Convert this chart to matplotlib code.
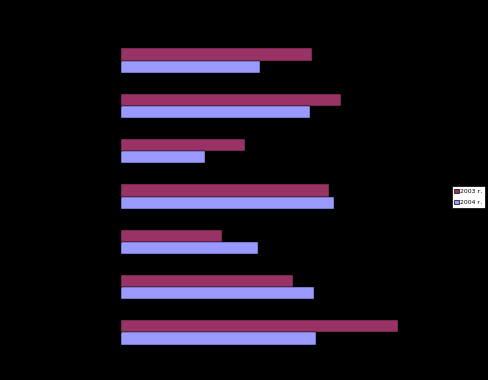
import numpy as np
import matplotlib
matplotlib.use("Agg")
import matplotlib.pyplot as plt
from matplotlib.patches import Patch

# values (axis scale is not shown, units are relative)
groups = ["1", "2", "3", "4", "5", "6", "7"]
y2003 = [191, 220, 124, 208, 101, 172, 277]
y2004 = [139, 189, 84, 213, 137, 193, 195]
series_names = ["2003 г.", "2004 г."]

c2003 = "#993366"
c2004 = "#9999ff"

fig = plt.figure(figsize=(4.88, 3.80), dpi=100, facecolor="black")
W, H = 488, 380
ax = fig.add_axes([121 / W, 1 - 355 / H, 319 / W, (355 - 38) / H])
ax.set_facecolor("black")

pos = np.arange(len(groups))
h = 0.27
ax.barh(pos - h / 2, y2003, height=h, color=c2003, edgecolor="black", linewidth=0.3)
ax.barh(pos + h / 2, y2004, height=h, color=c2004, edgecolor="black", linewidth=0.3)

ax.set_xlim(0, 319)
ax.set_ylim(len(groups) - 0.5, -0.5)
ax.set_yticks(pos)
ax.set_yticklabels(groups, color="black")
ax.tick_params(colors="black", labelcolor="black")
for s in ax.spines.values():
    s.set_visible(False)

handles = [Patch(facecolor=c2003, edgecolor="black", linewidth=0.5),
           Patch(facecolor=c2004, edgecolor="black", linewidth=0.5)]
leg = fig.legend(handles, series_names, loc="center", bbox_to_anchor=(468.5 / W, 1 - 197 / H),
                 fontsize=4.4, frameon=True, fancybox=False, framealpha=1, borderpad=0.4,
                 handlelength=0.8, handleheight=0.8, handletextpad=0.15,
                 labelspacing=0.9, borderaxespad=0)
leg.get_frame().set_facecolor("white")
leg.get_frame().set_edgecolor("black")
leg.get_frame().set_linewidth(0.5)

fig.savefig("out.png", dpi=100, facecolor="black")
